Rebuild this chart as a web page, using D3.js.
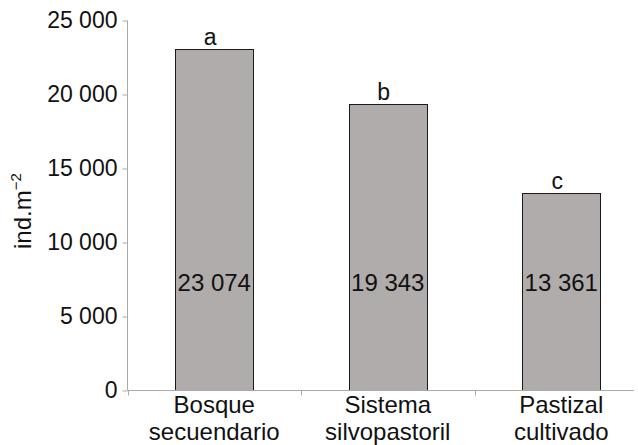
<!DOCTYPE html>
<html>
<head>
<meta charset="utf-8">
<script src="https://cdn.jsdelivr.net/npm/d3@7"></script>
<style>
  body { margin: 0; background: #fff; }
  svg text { font-family: "Liberation Sans", Arial, sans-serif; fill: #111; }
</style>
</head>
<body>
<svg id="chart" width="638" height="445"></svg>
<script>
// chart data
var categories = [["Bosque", "secuendario"], ["Sistema", "silvopastoril"], ["Pastizal", "cultivado"]];
var values = [23074, 19343, 13361];
var valueLabels = ["23 074", "19 343", "13 361"];
var groupLetters = ["a", "b", "c"];
var yTicks = [0, 5000, 10000, 15000, 20000, 25000];

var svg = d3.select('#chart');

var x = d3.scaleBand()
    .domain(d3.range(categories.length))
    .range([127.5, 648])
    .padding(0);

var y = d3.scaleLinear()
    .domain([0, 25000])
    .range([390.5, 20.5]);

var barW = 78;
var axisColor = '#aaaaaa';

// y axis
var yAxis = svg.append('g')
    .attr('transform', 'translate(127.5,0)')
    .call(d3.axisLeft(y)
        .tickValues(yTicks)
        .tickSize(5)
        .tickPadding(5)
        .tickFormat(function (d) { return d3.format(',')(d).replace(',', ' '); }));
yAxis.select('.domain').attr('stroke', axisColor).attr('d', 'M0,' + y(25000) + 'V' + y(0));
yAxis.selectAll('.tick line').attr('stroke', axisColor);
yAxis.selectAll('.tick text')
    .style('font-size', '23px')
    .attr('fill', '#111');

// boundary ticks under the x axis
svg.selectAll('line.bound')
    .data(d3.range(categories.length))
    .enter().append('line')
    .attr('class', 'bound')
    .attr('x1', function (d) { return Math.round(x(d)) + 0.5; })
    .attr('x2', function (d) { return Math.round(x(d)) + 0.5; })
    .attr('y1', y(0)).attr('y2', y(0) + 5)
    .attr('stroke', axisColor);

// bars
svg.selectAll('rect.bar')
    .data(values)
    .enter().append('rect')
    .attr('class', 'bar')
    .attr('x', function (d, i) { return Math.round(x(i) + x.bandwidth() / 2 - barW / 2) + 0.5; })
    .attr('y', function (d) { return Math.round(y(d)) + 0.5; })
    .attr('width', barW)
    .attr('height', function (d) { return y(0) - Math.round(y(d)) - 0.5; })
    .attr('fill', '#b0acab')
    .attr('stroke', '#1a1a1a')
    .attr('stroke-width', 1);

// baseline drawn over bar bottoms
svg.append('line')
    .attr('x1', 127.5).attr('x2', 634)
    .attr('y1', y(0)).attr('y2', y(0))
    .attr('stroke', axisColor);

// value labels inside bars
svg.selectAll('text.val')
    .data(valueLabels)
    .enter().append('text')
    .attr('class', 'val')
    .attr('x', function (d, i) { return x(i) + x.bandwidth() / 2; })
    .attr('y', 291)
    .attr('text-anchor', 'middle')
    .style('font-size', '24px')
    .text(function (d) { return d; });

// significance letters
svg.selectAll('text.letter')
    .data(groupLetters)
    .enter().append('text')
    .attr('class', 'letter')
    .attr('x', function (d, i) { return x(i) + x.bandwidth() / 2 - 4; })
    .attr('y', function (d, i) { return y(values[i]) - 4; })
    .attr('text-anchor', 'middle')
    .style('font-size', '23px')
    .text(function (d) { return d; });

// category labels
var catG = svg.selectAll('text.cat')
    .data(categories)
    .enter().append('text')
    .attr('class', 'cat')
    .attr('text-anchor', 'middle')
    .style('font-size', '24px');
catG.selectAll('tspan')
    .data(function (d, i) { return d.map(function (s) { return { s: s, i: i }; }); })
    .enter().append('tspan')
    .attr('x', function (d) { return x(d.i) + x.bandwidth() / 2; })
    .attr('y', function (d, j) { return 413 + j * 27; })
    .text(function (d) { return d.s; });

// y axis title
var yt = svg.append('text')
    .attr('transform', 'translate(31,249) rotate(-90)')
    .style('font-size', '24px');
yt.append('tspan').text('ind.m');
yt.append('tspan').attr('dy', -10).style('font-size', '15px').text('\u22122');
</script>
</body>
</html>
